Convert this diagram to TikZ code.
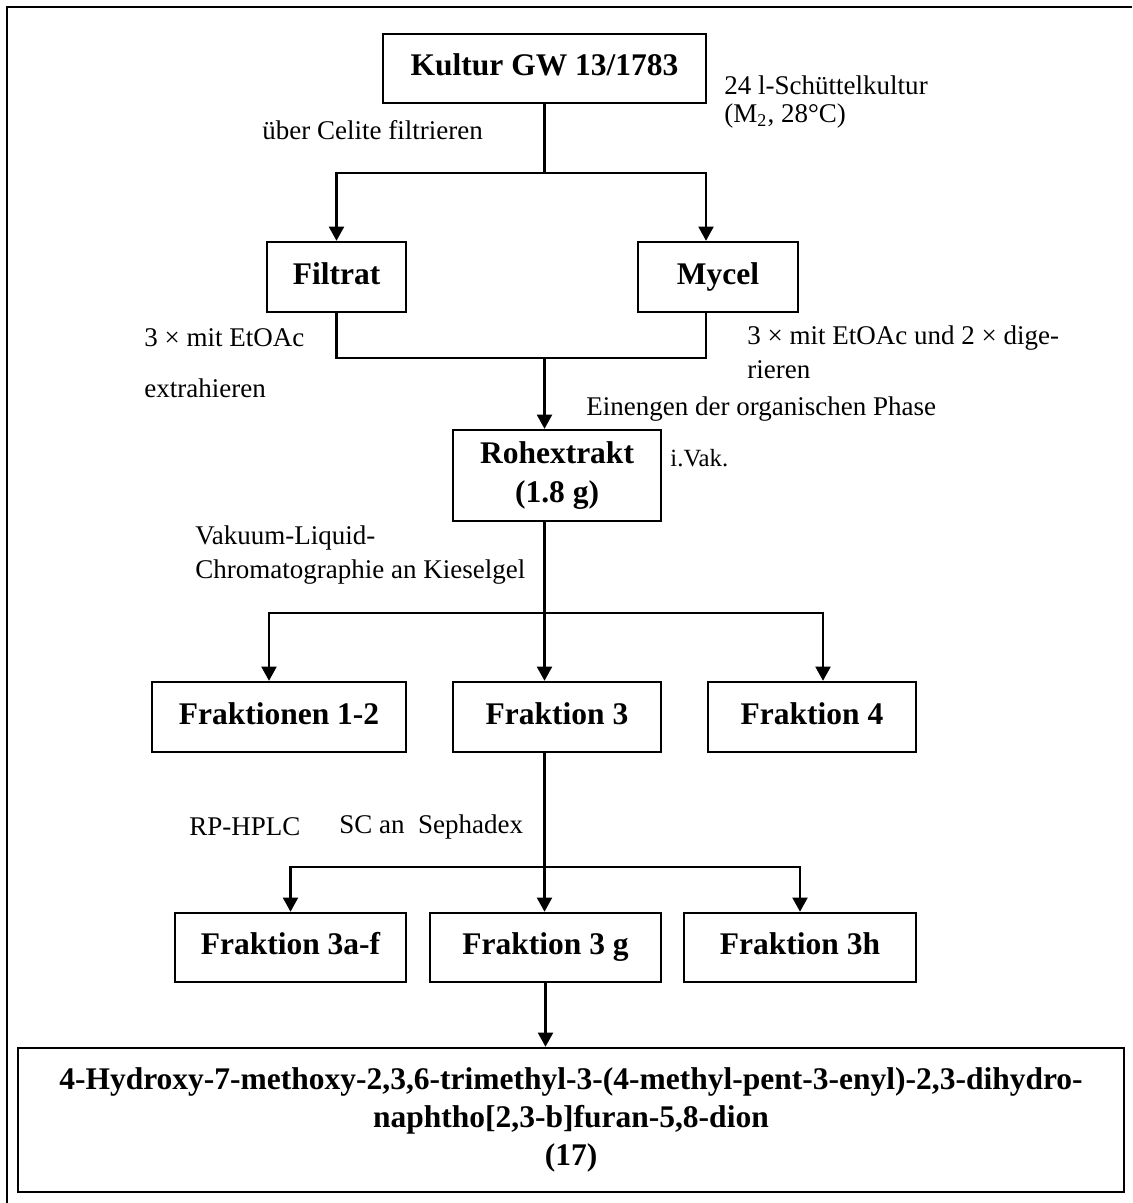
\documentclass[tikz,border=0pt]{standalone}
\usepackage{fontspec}
\setmainfont{Liberation Serif}
\usetikzlibrary{arrows.meta}

\begin{document}
\begin{tikzpicture}[x=0.4444pt,y=-0.4444pt]

		\tikzstyle{box}=[draw,line width=1.1pt,inner sep=0pt,align=center,font=\fontsize{14}{17}\selectfont\bfseries]
		\tikzstyle{tag}=[box,text height=10pt,text depth=3.5pt]
		\tikzstyle{note}=[anchor=west,inner sep=0pt,font=\fontsize{12}{14}\selectfont]
		\tikzstyle{joint}=[line width=0.9pt]
		\tikzstyle{flow}=[line width=0.9pt,-{Triangle[length=6.3pt,width=6.7pt]}]

		\useasboundingbox (0,0) rectangle (1132,1203);
		\draw[line width=1.2pt] (7,1203) -- (7,7) -- (1132,7);

		% boxes
		\node[tag,minimum width=143.6pt,minimum height=30.7pt] (kultur) at (544.5,68.5) {Kultur GW 13/1783};
		\node[tag,minimum width=61.8pt,minimum height=31.1pt] (filtrat) at (336.5,277) {Filtrat};
		\node[tag,minimum width=71.1pt,minimum height=31.1pt] (mycel) at (718,277) {Mycel};
		\node[box,minimum width=92.4pt,minimum height=40.4pt] (roh) at (557,475.5) {Rohextrakt\\(1.8 g)};
		\node[tag,minimum width=112.9pt,minimum height=31.1pt] (fr12) at (279,717) {Fraktionen 1-2};
		\node[tag,minimum width=92.4pt,minimum height=31.1pt] (fr3) at (557,717) {Fraktion 3};
		\node[tag,minimum width=92.4pt,minimum height=31.1pt] (fr4) at (812,717) {Fraktion 4};
		\node[tag,minimum width=102.7pt,minimum height=30.7pt] (fr3af) at (290.5,947.5) {Fraktion 3a-f};
		\node[tag,minimum width=102.7pt,minimum height=30.7pt] (fr3g) at (545.5,947.5) {Fraktion 3 g};
		\node[tag,minimum width=103.1pt,minimum height=30.7pt] (fr3h) at (800,947.5) {Fraktion 3h};
		\node[box,minimum width=491.5pt,minimum height=64pt] (final) at (571,1120) {4-Hydroxy-7-methoxy-2,3,6-trimethyl-3-(4-methyl-pent-3-enyl)-2,3-dihydro-\\naphtho[2,3-b]furan-5,8-dion\\(17)};

		% notes
		\node[note] (schuettel) at (724,85) {24 l-Schüttelkultur};
		\node[note] (medium) at (724,116) {(M\textsubscript{2}, 28°C)};
		\node[note] (celite) at (262,130) {über Celite filtrieren};
		\node[note] (extrF) at (144,338) {3 × mit EtOAc};
		\node[note] (extrFb) at (144,388) {extrahieren};
		\node[note] (extrM) at (747,338) {3 × mit EtOAc und 2 × dige-};
		\node[note] (extrMb) at (747,370) {rieren};
		\node[note] (einengen) at (586,409) {Einengen der organischen Phase};
		\node[note,font=\fontsize{11}{13}\selectfont] (ivak) at (670,458) {i.Vak.};
		\node[note] (vlc) at (195,538) {Vakuum-Liquid-};
		\node[note] (vlcb) at (195,572) {Chromatographie an Kieselgel};
		\node[note] (hplc) at (189,827) {RP-HPLC};
		\node[note] (sephadex) at (339,827) {SC an\ \ Sephadex};

		% connectors
		\coordinate (s1) at (544.5,173);
		\coordinate (s1r) at (706,173);
		\draw[joint] (kultur.south) -- (s1);
		\draw[flow] (s1) -| (filtrat.north);
		\draw[flow] (s1) -- (s1r) -- (mycel.north -| s1r);

		\coordinate (m1) at (544.5,358);
		\draw[joint] (filtrat.south) |- (m1) -| (mycel.south -| s1r);
		\draw[flow] (m1) -- (roh.north -| m1);

		\coordinate (s2) at (544.5,613);
		\coordinate (s2l) at (269,613);
		\coordinate (s2r) at (823,613);
		\draw[joint] (roh.south -| s2) -- (s2);
		\draw[flow] (s2) -- (s2l) -- (fr12.north -| s2l);
		\draw[flow] (s2) -- (fr3.north -| s2);
		\draw[flow] (s2) -- (s2r) -- (fr4.north -| s2r);

		\coordinate (s3) at (544.5,867);
		\coordinate (s3l) at (290.5,867);
		\coordinate (s3r) at (800,867);
		\draw[joint] (fr3.south -| s3) -- (s3);
		\draw[flow] (s3) -- (fr3g.north -| s3);
		\draw[flow] (s3) -- (s3l) -- (fr3af.north);
		\draw[flow] (s3) -- (s3r) -- (fr3h.north);

		\draw[flow] (fr3g.south) -- (final.north -| fr3g.south);

\end{tikzpicture}
\end{document}
